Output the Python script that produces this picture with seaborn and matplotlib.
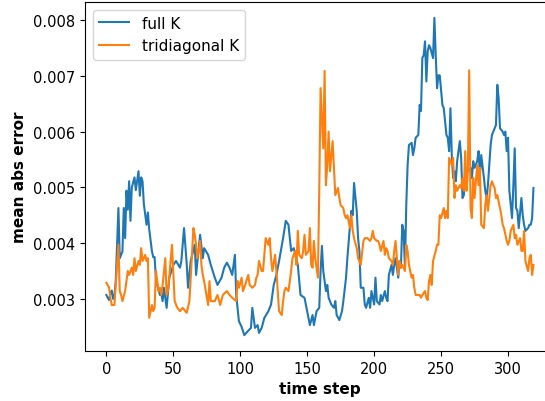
import numpy as np
import pandas as pd
import matplotlib
matplotlib.use("Agg")
import matplotlib.pyplot as plt
import seaborn as sns

# values, mean abs error in units of 1e-3
steps_full = [0, 1, 2, 3, 4, 5, 6, 7, 9, 10, 12, 13, 14, 15, 16, 17, 18, 19, 21, 22,
              24, 25, 26, 27, 28, 30, 31, 32, 34, 35, 36, 37, 38, 40, 41, 42, 43, 45, 47, 50,
              52, 55, 56, 58, 60, 61, 63, 66, 67, 70, 72, 73, 76, 78, 81, 83, 86, 88, 90, 92,
              94, 96, 97, 99, 101, 103, 106, 108, 109, 111, 113, 114, 116, 118, 121, 123, 125, 127, 129, 132,
              134, 136, 138, 140, 143, 145, 148, 150, 152, 154, 155, 157, 159, 160, 161, 162, 164, 165, 166, 168,
              170, 171, 172, 174, 176, 177, 179, 180, 182, 183, 184, 185, 187, 188, 189, 190, 192, 193, 194, 196,
              197, 198, 200, 201, 202, 204, 205, 206, 208, 209, 210, 211, 213, 214, 215, 216, 218, 219, 220, 221,
              222, 223, 224, 225, 226, 228, 229, 230, 231, 233, 234, 235, 236, 237, 238, 239, 240, 241, 242, 244,
              245, 246, 247, 248, 249, 251, 252, 254, 255, 256, 257, 258, 259, 260, 261, 262, 264, 265, 266, 267,
              268, 269, 270, 272, 273, 274, 275, 277, 278, 279, 280, 282, 283, 284, 285, 287, 288, 289, 291, 292,
              293, 294, 296, 297, 298, 299, 300, 301, 303, 304, 305, 306, 307, 308, 310, 311, 312, 313, 315, 316,
              317, 318, 319]
err_full = [3.07, 3.02, 2.98, 3.10, 3.15, 3.00, 3.05, 3.32, 4.63, 3.73, 3.85, 4.63, 4.09, 4.94, 4.60, 5.11, 4.40, 5.00, 5.18, 4.95,
            5.29, 4.85, 5.18, 5.11, 4.70, 4.33, 4.55, 4.25, 3.86, 3.75, 3.75, 3.38, 3.25, 3.07, 3.10, 2.96, 3.20, 2.84, 3.38, 3.61,
            3.68, 3.56, 3.68, 4.27, 3.63, 3.20, 3.68, 3.97, 3.43, 4.15, 3.73, 3.91, 3.79, 3.61, 3.38, 3.25, 3.38, 3.56, 3.65, 3.56,
            3.43, 3.79, 3.07, 2.60, 2.50, 2.35, 2.43, 2.48, 2.84, 2.48, 2.53, 2.39, 2.48, 2.66, 2.78, 2.90, 3.25, 3.43, 3.68, 4.09,
            4.40, 4.33, 3.86, 3.91, 3.61, 3.07, 3.02, 2.78, 2.53, 2.71, 2.53, 2.78, 2.84, 3.50, 3.95, 3.50, 3.14, 3.25, 3.02, 2.90,
            2.84, 2.96, 2.71, 2.62, 2.78, 2.96, 3.38, 3.73, 4.33, 4.58, 4.50, 5.08, 4.58, 4.09, 3.86, 3.20, 3.20, 2.90, 2.84, 3.02,
            2.84, 3.14, 2.90, 3.38, 2.96, 2.90, 3.07, 2.96, 3.14, 3.02, 2.96, 3.43, 3.61, 3.43, 3.61, 3.73, 3.38, 3.68, 3.56, 4.33,
            4.22, 3.56, 4.68, 5.40, 5.76, 5.80, 5.58, 5.70, 5.89, 5.94, 6.48, 6.37, 7.32, 7.37, 7.62, 6.90, 7.44, 7.55, 7.50, 7.32,
            8.04, 7.37, 6.78, 7.01, 7.01, 6.48, 6.42, 5.94, 5.89, 5.65, 6.42, 5.58, 5.17, 5.29, 5.11, 5.47, 5.83, 5.53, 4.81, 4.86,
            5.17, 5.29, 5.29, 5.35, 5.17, 5.47, 5.35, 5.47, 5.65, 5.22, 5.58, 5.17, 4.94, 4.81, 5.04, 5.76, 5.94, 6.00, 6.12, 6.84,
            6.60, 6.06, 6.00, 5.94, 6.00, 5.65, 5.89, 4.94, 4.45, 5.04, 5.70, 4.63, 4.58, 4.27, 4.81, 4.50, 4.33, 4.22, 4.27, 4.33,
            4.33, 4.45, 4.99]

steps_tri = [0, 2, 3, 4, 6, 7, 9, 10, 11, 12, 14, 15, 16, 17, 19, 20, 21, 22, 24, 25,
             26, 27, 29, 30, 31, 32, 34, 35, 36, 37, 39, 40, 41, 42, 44, 45, 46, 47, 49, 51,
             53, 55, 57, 60, 62, 63, 65, 66, 67, 68, 70, 71, 72, 73, 76, 77, 78, 81, 83, 85,
             87, 90, 92, 94, 97, 98, 99, 101, 102, 103, 106, 107, 109, 111, 112, 113, 114, 116, 117, 119,
             121, 122, 123, 124, 126, 127, 128, 129, 131, 132, 133, 134, 136, 138, 139, 141, 142, 143, 144, 146,
             147, 148, 149, 151, 152, 153, 154, 155, 156, 157, 158, 159, 160, 162, 163, 164, 165, 166, 167, 169,
             170, 171, 173, 174, 175, 177, 178, 179, 180, 182, 183, 184, 185, 187, 188, 189, 190, 192, 193, 195,
             197, 198, 199, 200, 202, 203, 204, 205, 207, 208, 209, 210, 211, 213, 214, 215, 216, 218, 219, 220,
             221, 223, 224, 225, 226, 228, 229, 230, 231, 234, 235, 236, 238, 239, 240, 241, 242, 243, 244, 246,
             247, 248, 249, 250, 252, 253, 254, 255, 256, 258, 259, 260, 261, 262, 264, 265, 266, 267, 268, 269,
             270, 271, 272, 273, 274, 275, 277, 278, 279, 280, 282, 283, 284, 285, 287, 288, 289, 290, 291, 292,
             294, 295, 296, 297, 299, 300, 301, 302, 304, 305, 306, 307, 309, 310, 311, 312, 313, 315, 316, 317,
             318, 319]
err_tri = [3.29, 3.20, 3.02, 2.89, 2.89, 3.25, 3.97, 3.14, 3.07, 2.96, 3.14, 3.32, 3.50, 3.43, 3.56, 3.43, 3.73, 3.50, 3.68, 3.61,
           3.91, 3.68, 3.79, 3.68, 3.73, 2.66, 2.89, 2.78, 2.84, 3.50, 3.14, 3.20, 3.07, 3.25, 3.73, 3.07, 3.14, 3.40, 3.97, 2.96,
           2.84, 2.78, 2.84, 2.75, 2.96, 3.38, 4.27, 4.15, 3.97, 3.73, 4.04, 3.61, 3.43, 3.32, 2.89, 3.32, 2.96, 2.96, 3.07, 2.89,
           3.07, 3.14, 3.07, 3.02, 2.96, 3.32, 3.20, 3.38, 3.14, 3.20, 3.43, 3.25, 3.20, 3.25, 3.38, 3.43, 3.68, 3.50, 3.50, 4.09,
           3.97, 4.09, 3.73, 3.50, 3.79, 3.50, 3.14, 2.78, 2.71, 2.96, 3.14, 3.20, 3.14, 3.50, 3.73, 3.86, 3.61, 4.22, 3.79, 3.73,
           3.86, 4.15, 3.79, 3.86, 4.27, 3.61, 3.56, 4.04, 3.73, 3.56, 3.38, 4.94, 6.78, 5.70, 7.09, 5.04, 5.40, 6.00, 5.29, 5.83,
           5.35, 4.86, 4.99, 4.81, 4.68, 4.63, 4.50, 4.45, 4.50, 4.27, 4.50, 4.22, 4.09, 3.91, 3.73, 3.68, 3.61, 4.04, 4.09, 4.09,
           4.04, 4.09, 4.22, 4.09, 4.04, 4.04, 3.97, 3.86, 4.04, 3.79, 3.91, 3.86, 3.73, 3.68, 3.61, 3.86, 4.04, 3.43, 3.68, 3.56,
           3.61, 3.50, 3.97, 3.86, 3.61, 3.38, 3.43, 3.20, 3.07, 3.07, 3.02, 3.07, 3.14, 3.02, 2.98, 3.32, 3.43, 3.25, 3.68, 3.86,
           3.97, 3.97, 4.50, 4.45, 4.63, 4.45, 4.58, 4.45, 5.53, 5.40, 5.53, 4.81, 5.04, 4.94, 5.04, 4.99, 5.17, 4.94, 5.65, 4.94,
           5.29, 7.10, 4.63, 4.45, 5.17, 4.81, 5.40, 5.04, 5.35, 4.33, 4.27, 4.68, 4.86, 4.58, 5.04, 5.11, 5.04, 4.99, 4.81, 4.86,
           4.63, 4.50, 4.33, 4.27, 4.04, 3.97, 4.04, 4.22, 4.33, 4.09, 4.15, 3.97, 4.09, 3.86, 3.86, 4.22, 3.68, 3.50, 3.73, 3.79,
           3.43, 3.61]

labels = ["full K", "tridiagonal K"]

df = pd.concat([
    pd.DataFrame({"time step": steps_full, "mean abs error": np.array(err_full) * 1e-3, "method": labels[0]}),
    pd.DataFrame({"time step": steps_tri, "mean abs error": np.array(err_tri) * 1e-3, "method": labels[1]}),
])

plt.rcParams["font.family"] = ["DejaVu Sans"]

fig = plt.figure(figsize=(5.45, 4.02), dpi=100)
ax = fig.add_axes([0.156, 0.1244, 0.862, 0.868])
sns.lineplot(data=df, x="time step", y="mean abs error", hue="method",
             palette=["#1f77b4", "#ff7f0e"], linewidth=1.5, ax=ax)

ax.set_xticks([0, 50, 100, 150, 200, 250, 300])
ax.set_yticks([0.003, 0.004, 0.005, 0.006, 0.007, 0.008])
ax.tick_params(labelsize=10.5)
ax.set_xlabel("time step", fontsize=11, fontweight="bold")
ax.set_ylabel("mean abs error", fontsize=11, fontweight="bold")
ax.legend(loc="upper left", fontsize=11, title=None)

# panel label, mostly cut off at the left edge in the reference
fig.text(-0.045, 0.0, "(a)", fontsize=11, va="bottom")

fig.savefig("out.png", dpi=100)
